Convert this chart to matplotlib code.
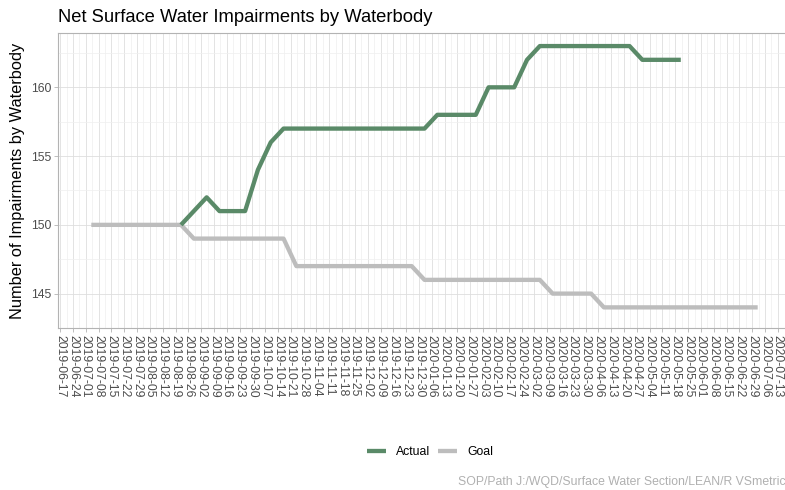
import matplotlib
matplotlib.use("Agg")
import matplotlib.pyplot as plt
import pandas as pd

plt.rcParams['font.family'] = ['Liberation Sans', 'DejaVu Sans']

# ---- data ----
dates = pd.to_datetime([
    "2019-07-04", "2019-07-11", "2019-07-18", "2019-07-25", "2019-08-01", "2019-08-08",
    "2019-08-15", "2019-08-22", "2019-08-29", "2019-09-05", "2019-09-12", "2019-09-19",
    "2019-09-26", "2019-10-03", "2019-10-10", "2019-10-17", "2019-10-24", "2019-10-31",
    "2019-11-07", "2019-11-14", "2019-11-21", "2019-11-28", "2019-12-05", "2019-12-12",
    "2019-12-19", "2019-12-26", "2020-01-02", "2020-01-09", "2020-01-16", "2020-01-23",
    "2020-01-30", "2020-02-06", "2020-02-13", "2020-02-20", "2020-02-27", "2020-03-05",
    "2020-03-12", "2020-03-19", "2020-03-26", "2020-04-02", "2020-04-09", "2020-04-16",
    "2020-04-23", "2020-04-30", "2020-05-07", "2020-05-14", "2020-05-21", "2020-05-28",
    "2020-06-04", "2020-06-11", "2020-06-18", "2020-06-25", "2020-07-02",
])
goal = [150, 150, 150, 150, 150, 150, 150, 150,
        149, 149, 149, 149, 149, 149, 149, 149,
        147, 147, 147, 147, 147, 147, 147, 147, 147, 147,
        146, 146, 146, 146, 146, 146, 146, 146, 146, 146,
        145, 145, 145, 145,
        144, 144, 144, 144, 144, 144, 144, 144, 144, 144, 144, 144, 144]
actual_dates = dates[7:47]
actual = [150, 151, 152, 151, 151, 151, 154, 156,
          157, 157, 157, 157, 157, 157, 157, 157, 157, 157, 157, 157,
          158, 158, 158, 158,
          160, 160, 160,
          162,
          163, 163, 163, 163, 163, 163, 163, 163,
          162, 162, 162, 162]
tick_dates = pd.date_range("2019-06-17", "2020-07-13", freq="W-MON")
y_ticks = [145, 150, 155, 160]

title = "Net Surface Water Impairments by Waterbody"
ylabel = "Number of Impairments by Waterbody"
caption = "SOP/Path J:/WQD/Surface Water Section/LEAN/R VSmetrics"

green = "#5a8a68"
grey = "#bdbdbd"

W, H = 785, 490
fig = plt.figure(figsize=(W / 100, H / 100), dpi=100)
left, right, top, bottom = 58, 791, 33, 328
ax = fig.add_axes([left / W, 1 - bottom / H, (right - left) / W, (bottom - top) / H])

ax.plot(actual_dates, actual, color=green, lw=3.1, solid_capstyle='butt', zorder=3, label="Actual")
ax.plot(dates, goal, color=grey, lw=3.1, solid_capstyle='butt', zorder=2, label="Goal")

span = dates[-1] - dates[0]
ax.set_xlim(dates[0] - span * 0.05, dates[-1] + span * 0.05)
ymin, ymax = 144, 163
ax.set_ylim(ymin - 0.05 * (ymax - ymin), ymax + 0.05 * (ymax - ymin))

ax.set_xticks(tick_dates)
ax.set_xticklabels([d.strftime("%Y-%m-%d") for d in tick_dates], rotation=-90,
                   fontsize=8.8, color="#4d4d4d", va='top', ha='center')
minor_x = tick_dates[:-1] + pd.Timedelta(days=3.5)
ax.set_xticks(minor_x, minor=True)
ax.set_yticks(y_ticks)
ax.set_yticklabels([str(v) for v in y_ticks], fontsize=8.8, color="#4d4d4d")
ax.set_yticks([142.5, 147.5, 152.5, 157.5, 162.5], minor=True)

ax.grid(which='major', color="#dedede", lw=0.6)
ax.grid(which='minor', color="#efefef", lw=0.5)
ax.set_axisbelow(True)
ax.tick_params(which='major', length=3, color="#b3b3b3", width=0.6, pad=2)
ax.tick_params(which='minor', length=0)
for s in ax.spines.values():
    s.set_color("#b3b3b3")
    s.set_linewidth(0.8)

ax.set_ylabel(ylabel, fontsize=11.8, color="black", labelpad=4)
fig.text(left / W, 1 - 17 / H, title, fontsize=13.2, color="black", ha='left', va='center')

leg = fig.legend(loc='center', bbox_to_anchor=(430 / W, 1 - 452 / H), ncol=2, frameon=False,
                 fontsize=8.8, handlelength=1.6, handletextpad=0.8, columnspacing=0.6)
for t in leg.get_texts():
    t.set_color("black")

fig.text(458 / W, 1 - 482 / H, caption, fontsize=8.8, color="#b0b0b0", ha='left', va='center')

fig.savefig("out.png", dpi=100)
